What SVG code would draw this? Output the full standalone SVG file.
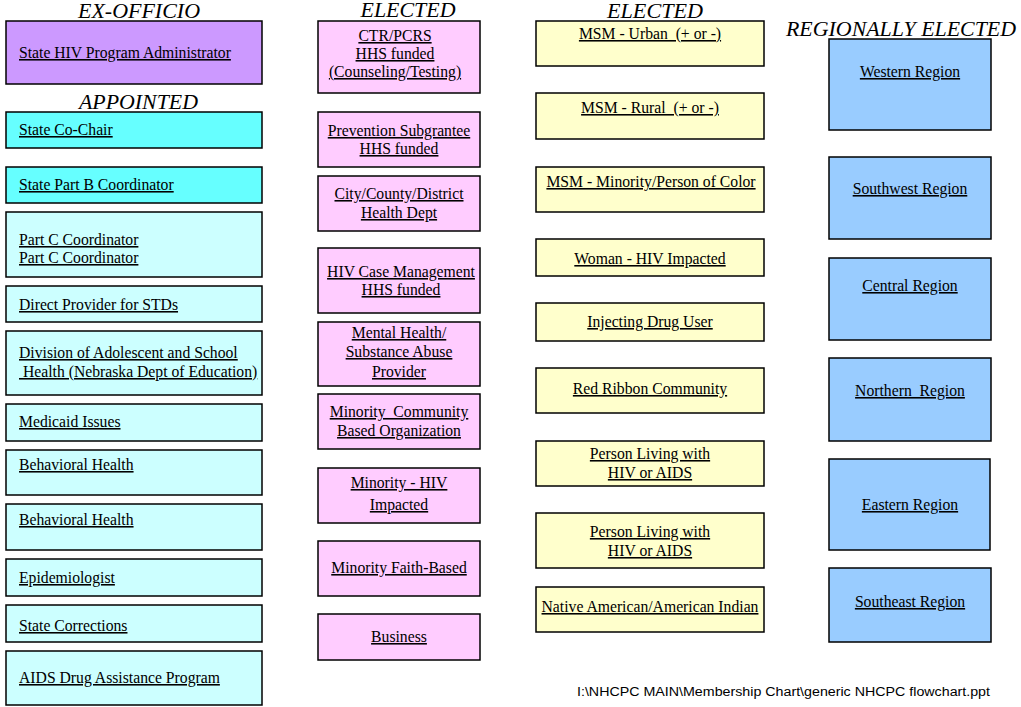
<svg xmlns="http://www.w3.org/2000/svg" width="1021" height="707" viewBox="0 0 1021 707">
<style>
.b{stroke:#000;stroke-width:1.5}
.ex{fill:#CC99FF}.ap{fill:#66FFFF}.lc{fill:#CCFFFF}.pk{fill:#FFCCFF}.yl{fill:#FFFFCC}.bl{fill:#99CCFF}
.t{font-family:"Liberation Serif","Times New Roman",serif;font-size:15.7px;fill:#000;text-decoration:underline}
.c{text-anchor:middle}
.h{font-family:"Liberation Serif","Times New Roman",serif;font-size:20px;font-style:italic;fill:#000;text-anchor:middle}
.f{font-family:"Liberation Sans",Arial,sans-serif;font-size:12px;fill:#000}
</style>
<rect width="1021" height="707" fill="#fff"/>
<g id="titles">
<text class="h" x="139" y="18" textLength="122" lengthAdjust="spacingAndGlyphs">EX-OFFICIO</text>
<text class="h" x="138.5" y="109" textLength="119" lengthAdjust="spacingAndGlyphs">APPOINTED</text>
<text class="h" x="408" y="17" textLength="95" lengthAdjust="spacingAndGlyphs">ELECTED</text>
<text class="h" x="655" y="18" textLength="96" lengthAdjust="spacingAndGlyphs">ELECTED</text>
<text class="h" x="901" y="36" textLength="230" lengthAdjust="spacingAndGlyphs">REGIONALLY ELECTED</text>
</g>
<!-- Column 1 -->
<g id="n-admin"><rect class="b ex" x="6" y="21" width="256" height="63"/><text class="t" x="19" y="58">State HIV Program Administrator</text></g>
<g id="n-cochair"><rect class="b ap" x="6" y="112" width="256" height="36"/><text class="t" x="19" y="135">State Co-Chair</text></g>
<g id="n-partb"><rect class="b ap" x="6" y="167" width="256" height="36"/><text class="t" x="19" y="190">State Part B Coordinator</text></g>
<g id="n-partc"><rect class="b lc" x="6" y="212" width="256" height="65"/><text class="t" x="19" y="245">Part C Coordinator</text><text class="t" x="19" y="263">Part C Coordinator</text></g>
<g id="n-std"><rect class="b lc" x="6" y="286" width="256" height="36"/><text class="t" x="19" y="310">Direct Provider for STDs</text></g>
<g id="n-division"><rect class="b lc" x="6" y="331" width="256" height="64"/><text class="t" x="19" y="358">Division of Adolescent and School</text><text class="t" x="19" y="377" xml:space="preserve"> Health (Nebraska Dept of Education)</text></g>
<g id="n-medicaid"><rect class="b lc" x="6" y="404" width="256" height="37"/><text class="t" x="19" y="427">Medicaid Issues</text></g>
<g id="n-bh1"><rect class="b lc" x="6" y="450" width="256" height="45"/><text class="t" x="19" y="470">Behavioral Health</text></g>
<g id="n-bh2"><rect class="b lc" x="6" y="504" width="256" height="46"/><text class="t" x="19" y="525">Behavioral Health</text></g>
<g id="n-epi"><rect class="b lc" x="6" y="559" width="256" height="37"/><text class="t" x="19" y="583">Epidemiologist</text></g>
<g id="n-corr"><rect class="b lc" x="6" y="605" width="256" height="37"/><text class="t" x="19" y="631">State Corrections</text></g>
<g id="n-adap"><rect class="b lc" x="6" y="651" width="256" height="54"/><text class="t" x="19" y="683">AIDS Drug Assistance Program</text></g>
<!-- Column 2 -->
<g id="n-ctr"><rect class="b pk" x="318" y="21" width="162" height="72"/><text class="t c" x="395" y="41">CTR/PCRS</text><text class="t c" x="395" y="59">HHS funded</text><text class="t c" x="395" y="77">(Counseling/Testing)</text></g>
<g id="n-prev"><rect class="b pk" x="318" y="112" width="162" height="55"/><text class="t c" x="399" y="136">Prevention Subgrantee</text><text class="t c" x="399" y="154">HHS funded</text></g>
<g id="n-city"><rect class="b pk" x="318" y="176" width="162" height="55"/><text class="t c" x="399" y="199">City/County/District</text><text class="t c" x="399" y="218">Health Dept</text></g>
<g id="n-case"><rect class="b pk" x="318" y="248" width="162" height="65"/><text class="t c" x="401" y="277">HIV Case Management</text><text class="t c" x="401" y="295">HHS funded</text></g>
<g id="n-mental"><rect class="b pk" x="318" y="322" width="162" height="64"/><text class="t c" x="399" y="338">Mental Health/</text><text class="t c" x="399" y="357">Substance Abuse</text><text class="t c" x="399" y="377">Provider</text></g>
<g id="n-mcbo"><rect class="b pk" x="318" y="394" width="162" height="55"/><text class="t c" x="399" y="417" xml:space="preserve">Minority  Community</text><text class="t c" x="399" y="436">Based Organization</text></g>
<g id="n-mhiv"><rect class="b pk" x="318" y="468" width="162" height="55"/><text class="t c" x="399" y="488">Minority - HIV</text><text class="t c" x="399" y="510">Impacted</text></g>
<g id="n-faith"><rect class="b pk" x="318" y="541" width="162" height="55"/><text class="t c" x="399" y="573">Minority Faith-Based</text></g>
<g id="n-business"><rect class="b pk" x="318" y="614" width="162" height="46"/><text class="t c" x="399" y="642">Business</text></g>
<!-- Column 3 -->
<g id="n-urban"><rect class="b yl" x="536" y="21" width="228" height="45"/><text class="t c" x="650" y="39" xml:space="preserve">MSM - Urban  (+ or -)</text></g>
<g id="n-rural"><rect class="b yl" x="536" y="93" width="228" height="46"/><text class="t c" x="650" y="113" xml:space="preserve">MSM - Rural  (+ or -)</text></g>
<g id="n-msmmin"><rect class="b yl" x="536" y="167" width="228" height="45"/><text class="t c" x="651" y="187">MSM - Minority/Person of Color</text></g>
<g id="n-woman"><rect class="b yl" x="536" y="239" width="228" height="37"/><text class="t c" x="650" y="264">Woman - HIV Impacted</text></g>
<g id="n-idu"><rect class="b yl" x="536" y="303" width="228" height="38"/><text class="t c" x="650" y="327">Injecting Drug User</text></g>
<g id="n-redribbon"><rect class="b yl" x="536" y="368" width="228" height="45"/><text class="t c" x="650" y="394">Red Ribbon Community</text></g>
<g id="n-plwha1"><rect class="b yl" x="536" y="441" width="228" height="45"/><text class="t c" x="650" y="459">Person Living with</text><text class="t c" x="650" y="478">HIV or AIDS</text></g>
<g id="n-plwha2"><rect class="b yl" x="536" y="513" width="228" height="55"/><text class="t c" x="650" y="537">Person Living with</text><text class="t c" x="650" y="556">HIV or AIDS</text></g>
<g id="n-native"><rect class="b yl" x="536" y="587" width="228" height="45"/><text class="t c" x="650" y="612">Native American/American Indian</text></g>
<!-- Column 4 -->
<g id="n-western"><rect class="b bl" x="829" y="39" width="162" height="91"/><text class="t c" x="910" y="77">Western Region</text></g>
<g id="n-southwest"><rect class="b bl" x="829" y="157" width="162" height="82"/><text class="t c" x="910" y="194">Southwest Region</text></g>
<g id="n-central"><rect class="b bl" x="829" y="258" width="162" height="82"/><text class="t c" x="910" y="291">Central Region</text></g>
<g id="n-northern"><rect class="b bl" x="829" y="358" width="162" height="83"/><text class="t c" x="910" y="396" xml:space="preserve">Northern  Region</text></g>
<g id="n-eastern"><rect class="b bl" x="829" y="459" width="161" height="91"/><text class="t c" x="910" y="510">Eastern Region</text></g>
<g id="n-southeast"><rect class="b bl" x="829" y="568" width="162" height="74"/><text class="t c" x="910" y="607">Southeast Region</text></g>
<g id="footer"><text class="f" x="577" y="696" textLength="413" lengthAdjust="spacingAndGlyphs">I:\NHCPC MAIN\Membership Chart\generic NHCPC flowchart.ppt</text></g>
</svg>
